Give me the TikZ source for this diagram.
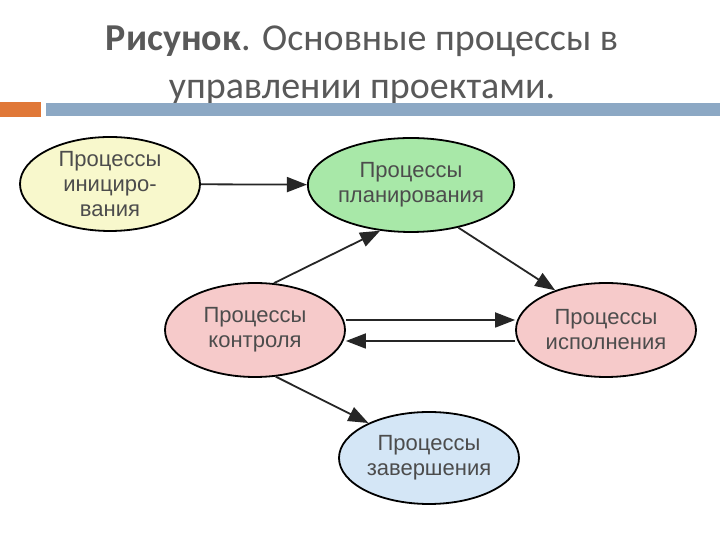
\documentclass[tikz,border=0pt]{standalone}
\usepackage{fontspec}
\setmainfont{Liberation Sans}
\newfontfamily\titlefont{Carlito}
\usetikzlibrary{shapes.geometric,arrows.meta}
\definecolor{cy}{HTML}{F8F8CC}
\definecolor{cg}{HTML}{A8E8A8}
\definecolor{cp}{HTML}{F6CACA}
\definecolor{cb}{HTML}{D4E6F6}
\definecolor{bo}{HTML}{E07838}
\definecolor{bb}{HTML}{8CA8C4}
\begin{document}
\begin{tikzpicture}[x=1pt,y=1pt,
  proc/.style={ellipse,draw=black,line width=1.8pt,minimum width=180pt,minimum height=94pt,inner sep=0pt,align=center,font=\fontsize{22}{25}\selectfont,text=black!70},
  arr/.style={-{Triangle[length=20pt,width=15pt]},line width=1.8pt,black!85}]
\useasboundingbox (0,0) rectangle (720,540);
\fill[white] (0,0) rectangle (720,540);
\node[font=\titlefont\fontsize{38}{48}\selectfont,text=black!65,align=center] (title) at (362,475) {\textbf{Рисунок}. Основные процессы в\\управлении проектами.};
\fill[bo] (0,423) rectangle (41,438);
\fill[bb] (46,424) rectangle (720,437);
\node[proc,fill=cy] (init) at (110,356) {Процессы\\инициро-\\вания};
\node[proc,fill=cg] (plan) at (411,355) {Процессы\\планирования};
\node[proc,fill=cp] (ctrl) at (255,210) {Процессы\\контроля};
\node[proc,fill=cp] (exec) at (606,210) {Процессы\\исполнения};
\node[proc,fill=cb,minimum height=92pt] (done) at (429,82) {Процессы\\завершения};
\draw[arr] (init) -- (plan);
\draw[arr] (ctrl.68) -- (plan.236);
\draw[arr] (plan.-42) -- (exec.142);
\draw[arr] ([yshift=10pt]ctrl.east) -- ([yshift=10pt]exec.west);
\draw[arr] ([yshift=-11pt]exec.west) -- ([yshift=-11pt]ctrl.east);
\draw[arr] (ctrl.-66) -- (done.150);
\end{tikzpicture}
\end{document}
